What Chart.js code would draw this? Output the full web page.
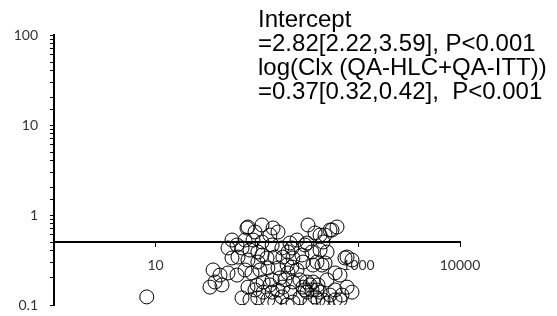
<!DOCTYPE html>
<html>
<head>
<meta charset="utf-8">
<script src="https://cdn.jsdelivr.net/npm/chart.js@4/dist/chart.umd.min.js"></script>
<style>
  html, body { margin: 0; padding: 0; background: #fff; }
  #wrap { width: 557px; height: 316px; position: relative; }
</style>
</head>
<body>
<div id="wrap"><canvas id="c" width="557" height="316"></canvas></div>
<script>
// Data (x = CIx, y = outcome)
const xValues = [81.5,112,79.7,95.6,144,134,161,56.7,63.5,51.8,71.2,76.2,91.4,112,141,176,65,81.5,102,125.5,150,36.9,43.2,38.6,34.4,45.2,51.8,63.5,76.2,89.3,107,128,161,81.5,100,115,141,169,71.2,85.3,102,128,150,176,141,161,
  318,614,524,418,373,311,447,202,180,226,277,348,418,490,390,468,356,771,587,657,771,863,688,198,221,202,189,226,180,311,356,399,348,418,311,284,373,447,490,333,265,226,198,524,587,248,211,736,863,437,297,548,468,
  333,390,297,265,115,95.6,134,211,248,284,85.3,102,56.7,657,490,587,221,399,112,8.2];
const yValues = [0.736,0.774,0.717,0.647,0.717,0.599,0.647,0.527,0.464,0.43,0.43,0.527,0.527,0.501,0.464,0.43,0.341,0.316,0.3,0.333,0.341,0.245,0.215,0.18,0.158,0.167,0.227,0.215,0.245,0.227,0.245,0.258,0.258,0.158,0.167,0.18,0.19,0.2,0.12,0.114,0.12,0.114,0.108,0.123,0.139,0.147,
  0.774,0.736,0.681,0.599,0.631,0.488,0.501,0.388,0.341,0.333,0.359,0.388,0.408,0.388,0.3,0.293,0.278,0.341,0.227,0.215,0.158,0.139,0.129,0.278,0.264,0.227,0.19,0.18,0.158,0.18,0.18,0.167,0.147,0.139,0.139,0.158,0.123,0.114,0.105,0.108,0.12,0.108,0.1,0.129,0.114,0.527,0.488,0.333,0.316,0.278,0.464,0.681,0.599,
  0.167,0.147,0.147,0.19,0.139,0.147,0.167,0.139,0.245,0.3,0.408,0.388,0.333,0.114,0.19,0.147,0.43,0.114,0.359,0.123];
const xTickValues = [10, 100, 1000, 10000];
const xTickLabels = ['10', '', '1000', '10000'];
const yTickValues = [0.1, 1, 10, 100];
const yTickLabels = ['0.1', '1', '10', '100'];
const noteLines = [
  'Intercept',
  '=2.82[2.22,3.59], P<0.001',
  'log(Clx (QA-HLC+QA-ITT))',
  '=0.37[0.32,0.42],  P<0.001'
];

const points = xValues.map((x, i) => ({ x: x, y: yValues[i] }));

const notePlugin = {
  id: 'note',
  afterDraw(chart) {
    const ctx = chart.ctx;
    ctx.save();
    ctx.fillStyle = '#000';
    ctx.font = '24px "Liberation Sans", Arial, sans-serif';
    ctx.textAlign = 'left';
    ctx.textBaseline = 'alphabetic';
    noteLines.forEach((t, i) => ctx.fillText(t, 258, 27 + i * 24));
    ctx.restore();
  }
};

new Chart(document.getElementById('c'), {
  type: 'scatter',
  data: {
    datasets: [{
      data: points,
      pointStyle: 'circle',
      pointRadius: 7,
      pointHoverRadius: 7,
      borderColor: '#000',
      borderWidth: 1,
      backgroundColor: 'rgba(0,0,0,0)',
      showLine: false
    }]
  },
  plugins: [notePlugin],
  options: {
    responsive: false,
    animation: false,
    events: [],
    layout: { padding: { left: 0, right: 97, top: 35, bottom: 11 } },
    plugins: { legend: { display: false }, tooltip: { enabled: false } },
    scales: {
      x: {
        type: 'logarithmic',
        min: 1,
        max: 10000,
        position: { y: 0.5 },
        afterBuildTicks: (s) => { s.ticks = xTickValues.map(v => ({ value: v })); },
        afterFit: (s) => { s.paddingLeft = 0; s.paddingRight = 0; },
        border: { display: true, color: '#000', width: 2 },
        grid: { drawOnChartArea: false, drawTicks: true, tickLength: 4, color: '#000', lineWidth: 1 },
        ticks: {
          autoSkip: false,
          maxRotation: 0,
          padding: 11,
          color: '#333',
          font: { family: 'Lato, "Open Sans", sans-serif', size: 14 },
          callback: (v, i) => xTickLabels[i]
        }
      },
      y: {
        type: 'logarithmic',
        min: 0.1,
        max: 100,
        position: 'left',
        afterFit: (s) => { s.width = 54; s.paddingTop = 0; s.paddingBottom = 0; },
        border: { display: true, color: '#000', width: 2 },
        grid: { drawOnChartArea: false, drawTicks: true, tickLength: 4, color: '#000', lineWidth: 1 },
        ticks: {
          autoSkip: false,
          padding: 12,
          color: '#333',
          font: { family: 'Lato, "Open Sans", sans-serif', size: 14 },
          callback: (v) => {
            const k = yTickValues.findIndex(t => Math.abs(t - v) / t < 1e-6);
            return k >= 0 ? yTickLabels[k] : '';
          }
        }
      }
    }
  }
});
</script>
</body>
</html>
